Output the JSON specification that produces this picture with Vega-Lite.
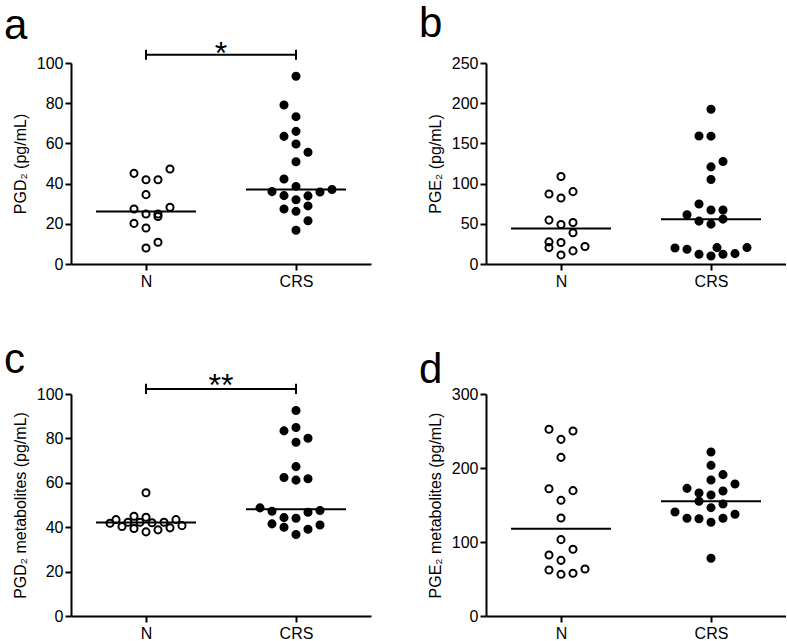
{
  "$schema": "https://vega.github.io/schema/vega-lite/v6.json",
  "padding": {"left": 4, "top": 3, "right": 0, "bottom": 0},
  "spacing": 49,
  "config": {
    "font": "Liberation Sans",
    "view": {"stroke": null},
    "axis": {"domainColor": "black", "domainWidth": 2, "tickColor": "black", "tickWidth": 2, "tickSize": 6, "labelColor": "black", "labelFontSize": 16, "titleColor": "black", "titleFontSize": 16, "titleFontWeight": "normal", "grid": false, "labelPadding": 2, "titlePadding": 8},
    "axisX": {"labelPadding": 3, "labelAngle": 0},
    "title": {"fontSize": 42, "fontWeight": "normal", "anchor": "start", "frame": "group", "color": "black", "dx": -67},
    "concat": {"spacing": 48}
  },
  "datasets": {
    "a": [
      {"g": "N", "v": 45.1, "col": -1}, {"g": "N", "v": 41.9, "col": 0}, {"g": "N", "v": 41.9, "col": 1}, {"g": "N", "v": 47.3, "col": 2},
      {"g": "N", "v": 34.5, "col": 0}, {"g": "N", "v": 27.4, "col": -1}, {"g": "N", "v": 24.9, "col": 0}, {"g": "N", "v": 24.9, "col": 1},
      {"g": "N", "v": 23.6, "col": 1}, {"g": "N", "v": 28.2, "col": 2}, {"g": "N", "v": 20.2, "col": -1}, {"g": "N", "v": 17.9, "col": 0},
      {"g": "N", "v": 10.8, "col": 1}, {"g": "N", "v": 8.0, "col": 0},
      {"g": "CRS", "v": 93.4, "col": 0}, {"g": "CRS", "v": 79.1, "col": -1}, {"g": "CRS", "v": 73.3, "col": 0}, {"g": "CRS", "v": 66.0, "col": 0},
      {"g": "CRS", "v": 63.5, "col": -1}, {"g": "CRS", "v": 59.7, "col": 0}, {"g": "CRS", "v": 55.6, "col": 1}, {"g": "CRS", "v": 50.9, "col": 0},
      {"g": "CRS", "v": 42.3, "col": -1}, {"g": "CRS", "v": 38.6, "col": 0}, {"g": "CRS", "v": 36.0, "col": -2}, {"g": "CRS", "v": 35.8, "col": 2},
      {"g": "CRS", "v": 37.1, "col": 3}, {"g": "CRS", "v": 34.0, "col": -1}, {"g": "CRS", "v": 33.9, "col": 1}, {"g": "CRS", "v": 32.0, "col": 0},
      {"g": "CRS", "v": 27.4, "col": -1}, {"g": "CRS", "v": 26.2, "col": 0}, {"g": "CRS", "v": 28.9, "col": 1}, {"g": "CRS", "v": 21.5, "col": 1},
      {"g": "CRS", "v": 16.8, "col": 0}
    ],
    "b": [
      {"g": "N", "v": 108.8, "col": 0}, {"g": "N", "v": 87.1, "col": -1}, {"g": "N", "v": 90.0, "col": 1}, {"g": "N", "v": 82.1, "col": 0},
      {"g": "N", "v": 54.6, "col": -1}, {"g": "N", "v": 49.2, "col": 0}, {"g": "N", "v": 51.7, "col": 1}, {"g": "N", "v": 38.8, "col": 1},
      {"g": "N", "v": 27.5, "col": -1}, {"g": "N", "v": 26.7, "col": 0}, {"g": "N", "v": 20.4, "col": -1}, {"g": "N", "v": 16.3, "col": 1},
      {"g": "N", "v": 21.7, "col": 2}, {"g": "N", "v": 11.3, "col": 0},
      {"g": "CRS", "v": 192.5, "col": 0}, {"g": "CRS", "v": 159.2, "col": -1}, {"g": "CRS", "v": 159.0, "col": 0}, {"g": "CRS", "v": 127.5, "col": 1},
      {"g": "CRS", "v": 120.8, "col": 0}, {"g": "CRS", "v": 105.0, "col": 0}, {"g": "CRS", "v": 74.6, "col": -1}, {"g": "CRS", "v": 67.1, "col": 0},
      {"g": "CRS", "v": 67.1, "col": 1}, {"g": "CRS", "v": 61.3, "col": -2}, {"g": "CRS", "v": 53.3, "col": -1}, {"g": "CRS", "v": 49.6, "col": 0},
      {"g": "CRS", "v": 55.8, "col": 1}, {"g": "CRS", "v": 20.0, "col": -3}, {"g": "CRS", "v": 18.3, "col": -2}, {"g": "CRS", "v": 12.1, "col": -1},
      {"g": "CRS", "v": 10.0, "col": 0}, {"g": "CRS", "v": 20.4, "col": 0.5}, {"g": "CRS", "v": 12.1, "col": 1}, {"g": "CRS", "v": 12.9, "col": 2},
      {"g": "CRS", "v": 20.4, "col": 3}
    ],
    "c": [
      {"g": "N", "v": 55.5, "col": 0}, {"g": "N", "v": 41.8, "col": -3}, {"g": "N", "v": 43.4, "col": -2.5}, {"g": "N", "v": 40.3, "col": -2},
      {"g": "N", "v": 42.2, "col": -1.5}, {"g": "N", "v": 44.9, "col": -1}, {"g": "N", "v": 39.4, "col": -1}, {"g": "N", "v": 42.2, "col": -0.5},
      {"g": "N", "v": 44.5, "col": 0}, {"g": "N", "v": 37.9, "col": 0}, {"g": "N", "v": 42.0, "col": 0.5}, {"g": "N", "v": 38.8, "col": 1},
      {"g": "N", "v": 42.2, "col": 1.5}, {"g": "N", "v": 39.7, "col": 2}, {"g": "N", "v": 43.4, "col": 2.5}, {"g": "N", "v": 40.7, "col": 3},
      {"g": "CRS", "v": 92.6, "col": 0}, {"g": "CRS", "v": 83.4, "col": -1}, {"g": "CRS", "v": 84.9, "col": 0}, {"g": "CRS", "v": 80.1, "col": 1},
      {"g": "CRS", "v": 78.3, "col": 0}, {"g": "CRS", "v": 67.3, "col": 0}, {"g": "CRS", "v": 62.4, "col": -1}, {"g": "CRS", "v": 61.2, "col": 0},
      {"g": "CRS", "v": 61.8, "col": 1}, {"g": "CRS", "v": 48.7, "col": -3}, {"g": "CRS", "v": 47.2, "col": -2}, {"g": "CRS", "v": 46.7, "col": 1},
      {"g": "CRS", "v": 47.5, "col": 2}, {"g": "CRS", "v": 44.3, "col": -1}, {"g": "CRS", "v": 44.0, "col": 0}, {"g": "CRS", "v": 41.5, "col": -2},
      {"g": "CRS", "v": 40.0, "col": -1}, {"g": "CRS", "v": 39.1, "col": 1}, {"g": "CRS", "v": 41.0, "col": 2}, {"g": "CRS", "v": 36.7, "col": 0}
    ],
    "d": [
      {"g": "N", "v": 252.3, "col": -1}, {"g": "N", "v": 250.0, "col": 1}, {"g": "N", "v": 238.7, "col": 0}, {"g": "N", "v": 214.4, "col": 0},
      {"g": "N", "v": 172.0, "col": -1}, {"g": "N", "v": 169.4, "col": 1}, {"g": "N", "v": 156.3, "col": 0}, {"g": "N", "v": 132.4, "col": 0},
      {"g": "N", "v": 103.2, "col": 0}, {"g": "N", "v": 90.1, "col": 1}, {"g": "N", "v": 82.4, "col": -1}, {"g": "N", "v": 75.2, "col": 0},
      {"g": "N", "v": 62.2, "col": -1}, {"g": "N", "v": 56.3, "col": 0}, {"g": "N", "v": 57.7, "col": 1}, {"g": "N", "v": 63.5, "col": 2},
      {"g": "CRS", "v": 221.6, "col": 0}, {"g": "CRS", "v": 203.6, "col": 0}, {"g": "CRS", "v": 191.0, "col": 1}, {"g": "CRS", "v": 183.8, "col": 0},
      {"g": "CRS", "v": 178.4, "col": 2}, {"g": "CRS", "v": 172.5, "col": -2}, {"g": "CRS", "v": 166.2, "col": -1}, {"g": "CRS", "v": 168.9, "col": 1},
      {"g": "CRS", "v": 163.5, "col": 0}, {"g": "CRS", "v": 155.0, "col": -1}, {"g": "CRS", "v": 151.4, "col": 1}, {"g": "CRS", "v": 146.4, "col": 0},
      {"g": "CRS", "v": 140.5, "col": -3}, {"g": "CRS", "v": 137.4, "col": 2}, {"g": "CRS", "v": 132.0, "col": -2}, {"g": "CRS", "v": 131.5, "col": -1},
      {"g": "CRS", "v": 132.0, "col": 1}, {"g": "CRS", "v": 126.6, "col": 0}, {"g": "CRS", "v": 78.0, "col": 0}
    ]
  },
  "vconcat": [
    {
      "spacing": 48,
      "hconcat": [
        {
          "title": {"text": "a", "offset": -10},
          "width": 300, "height": 201,
          "layer": [
            {
              "data": {"name": "a"},
              "mark": {"type": "tick", "color": "black", "size": 100, "thickness": 2},
              "encoding": {
                "x": {"field": "g", "type": "nominal", "scale": {"type": "point", "domain": ["N", "mid", "CRS"], "padding": 1}, "axis": {"values": ["N", "CRS"], "title": null}},
                "y": {"aggregate": "median", "field": "v", "type": "quantitative", "scale": {"domain": [0, 100], "nice": false}, "axis": {"values": [0, 20, 40, 60, 80, 100], "title": "PGD₂ (pg/mL)"}}
              }
            },
            {
              "data": {"name": "a"},
              "mark": {"type": "point", "shape": "circle", "size": 50, "strokeWidth": 2, "opacity": 1, "stroke": "black"},
              "encoding": {
                "x": {"field": "g", "type": "nominal", "scale": {"type": "point", "domain": ["N", "mid", "CRS"], "padding": 1}, "axis": {"values": ["N", "CRS"], "title": null}},
                "xOffset": {"field": "col", "type": "quantitative", "scale": {"domain": [-3, 3], "range": [-36, 36]}},
                "y": {"field": "v", "type": "quantitative", "scale": {"domain": [0, 100], "nice": false}, "axis": {"values": [0, 20, 40, 60, 80, 100], "title": "PGD₂ (pg/mL)"}},
                "fill": {"condition": {"test": "datum.g === 'CRS'", "value": "black"}, "value": "transparent"}
              }
            },
            {
              "data": {"values": [{"x1": "N", "x2": "CRS", "y": 104.1}]},
              "mark": {"type": "rule", "color": "black", "strokeWidth": 2},
              "encoding": {
                "x": {"field": "x1", "type": "nominal", "scale": {"type": "point", "domain": ["N", "mid", "CRS"], "padding": 1}, "axis": {"values": ["N", "CRS"], "title": null}},
                "x2": {"field": "x2"},
                "y": {"field": "y", "type": "quantitative", "scale": {"domain": [0, 100], "nice": false}, "axis": {"values": [0, 20, 40, 60, 80, 100], "title": "PGD₂ (pg/mL)"}}
              }
            },
            {
              "data": {"values": [{"g": "N", "lo": 101.6, "hi": 106.6}, {"g": "CRS", "lo": 101.6, "hi": 106.6}]},
              "mark": {"type": "rule", "color": "black", "strokeWidth": 2},
              "encoding": {
                "x": {"field": "g", "type": "nominal", "scale": {"type": "point", "domain": ["N", "mid", "CRS"], "padding": 1}, "axis": {"values": ["N", "CRS"], "title": null}},
                "y": {"field": "lo", "type": "quantitative", "scale": {"domain": [0, 100], "nice": false}, "axis": {"values": [0, 20, 40, 60, 80, 100], "title": "PGD₂ (pg/mL)"}},
                "y2": {"field": "hi"}
              }
            },
            {
              "data": {"values": [{"g": "mid", "y": 104.1, "t": "*"}]},
              "mark": {"type": "text", "fontSize": 32, "dy": 9, "baseline": "alphabetic", "color": "black"},
              "encoding": {
                "x": {"field": "g", "type": "nominal", "scale": {"type": "point", "domain": ["N", "mid", "CRS"], "padding": 1}, "axis": {"values": ["N", "CRS"], "title": null}},
                "y": {"field": "y", "type": "quantitative", "scale": {"domain": [0, 100], "nice": false}, "axis": {"values": [0, 20, 40, 60, 80, 100], "title": "PGD₂ (pg/mL)"}},
                "text": {"field": "t"}
              }
            }
          ]
        },
        {
          "title": {"text": "b", "offset": 9},
          "width": 300, "height": 201,
          "layer": [
            {
              "data": {"name": "b"},
              "mark": {"type": "tick", "color": "black", "size": 100, "thickness": 2},
              "encoding": {
                "x": {"field": "g", "type": "nominal", "scale": {"type": "point", "domain": ["N", "mid", "CRS"], "padding": 1}, "axis": {"values": ["N", "CRS"], "title": null}},
                "y": {"aggregate": "median", "field": "v", "type": "quantitative", "scale": {"domain": [0, 250], "nice": false}, "axis": {"values": [0, 50, 100, 150, 200, 250], "title": "PGE₂ (pg/mL)"}}
              }
            },
            {
              "data": {"name": "b"},
              "mark": {"type": "point", "shape": "circle", "size": 50, "strokeWidth": 2, "opacity": 1, "stroke": "black"},
              "encoding": {
                "x": {"field": "g", "type": "nominal", "scale": {"type": "point", "domain": ["N", "mid", "CRS"], "padding": 1}, "axis": {"values": ["N", "CRS"], "title": null}},
                "xOffset": {"field": "col", "type": "quantitative", "scale": {"domain": [-3, 3], "range": [-36, 36]}},
                "y": {"field": "v", "type": "quantitative", "scale": {"domain": [0, 250], "nice": false}, "axis": {"values": [0, 50, 100, 150, 200, 250], "title": "PGE₂ (pg/mL)"}},
                "fill": {"condition": {"test": "datum.g === 'CRS'", "value": "black"}, "value": "transparent"}
              }
            }
          ]
        }
      ]
    },
    {
      "spacing": 48,
      "hconcat": [
        {
          "title": {"text": "c", "offset": -12},
          "width": 300, "height": 222,
          "layer": [
            {
              "data": {"name": "c"},
              "mark": {"type": "tick", "color": "black", "size": 100, "thickness": 2},
              "encoding": {
                "x": {"field": "g", "type": "nominal", "scale": {"type": "point", "domain": ["N", "mid", "CRS"], "padding": 1}, "axis": {"values": ["N", "CRS"], "title": null}},
                "y": {"aggregate": "median", "field": "v", "type": "quantitative", "scale": {"domain": [0, 100], "nice": false}, "axis": {"values": [0, 20, 40, 60, 80, 100], "title": "PGD₂ metabolites (pg/mL)"}}
              }
            },
            {
              "data": {"name": "c"},
              "mark": {"type": "point", "shape": "circle", "size": 50, "strokeWidth": 2, "opacity": 1, "stroke": "black"},
              "encoding": {
                "x": {"field": "g", "type": "nominal", "scale": {"type": "point", "domain": ["N", "mid", "CRS"], "padding": 1}, "axis": {"values": ["N", "CRS"], "title": null}},
                "xOffset": {"field": "col", "type": "quantitative", "scale": {"domain": [-3, 3], "range": [-36, 36]}},
                "y": {"field": "v", "type": "quantitative", "scale": {"domain": [0, 100], "nice": false}, "axis": {"values": [0, 20, 40, 60, 80, 100], "title": "PGD₂ metabolites (pg/mL)"}},
                "fill": {"condition": {"test": "datum.g === 'CRS'", "value": "black"}, "value": "transparent"}
              }
            },
            {
              "data": {"values": [{"x1": "N", "x2": "CRS", "y": 102.3}]},
              "mark": {"type": "rule", "color": "black", "strokeWidth": 2},
              "encoding": {
                "x": {"field": "x1", "type": "nominal", "scale": {"type": "point", "domain": ["N", "mid", "CRS"], "padding": 1}, "axis": {"values": ["N", "CRS"], "title": null}},
                "x2": {"field": "x2"},
                "y": {"field": "y", "type": "quantitative", "scale": {"domain": [0, 100], "nice": false}, "axis": {"values": [0, 20, 40, 60, 80, 100], "title": "PGD₂ metabolites (pg/mL)"}}
              }
            },
            {
              "data": {"values": [{"g": "N", "lo": 100.0, "hi": 104.6}, {"g": "CRS", "lo": 100.0, "hi": 104.6}]},
              "mark": {"type": "rule", "color": "black", "strokeWidth": 2},
              "encoding": {
                "x": {"field": "g", "type": "nominal", "scale": {"type": "point", "domain": ["N", "mid", "CRS"], "padding": 1}, "axis": {"values": ["N", "CRS"], "title": null}},
                "y": {"field": "lo", "type": "quantitative", "scale": {"domain": [0, 100], "nice": false}, "axis": {"values": [0, 20, 40, 60, 80, 100], "title": "PGD₂ metabolites (pg/mL)"}},
                "y2": {"field": "hi"}
              }
            },
            {
              "data": {"values": [{"g": "mid", "y": 102.3, "t": "**"}]},
              "mark": {"type": "text", "fontSize": 32, "dy": 7, "baseline": "alphabetic", "color": "black"},
              "encoding": {
                "x": {"field": "g", "type": "nominal", "scale": {"type": "point", "domain": ["N", "mid", "CRS"], "padding": 1}, "axis": {"values": ["N", "CRS"], "title": null}},
                "y": {"field": "y", "type": "quantitative", "scale": {"domain": [0, 100], "nice": false}, "axis": {"values": [0, 20, 40, 60, 80, 100], "title": "PGD₂ metabolites (pg/mL)"}},
                "text": {"field": "t"}
              }
            }
          ]
        },
        {
          "title": {"text": "d", "offset": -6},
          "width": 300, "height": 222,
          "layer": [
            {
              "data": {"name": "d"},
              "mark": {"type": "tick", "color": "black", "size": 100, "thickness": 2},
              "encoding": {
                "x": {"field": "g", "type": "nominal", "scale": {"type": "point", "domain": ["N", "mid", "CRS"], "padding": 1}, "axis": {"values": ["N", "CRS"], "title": null}},
                "y": {"aggregate": "median", "field": "v", "type": "quantitative", "scale": {"domain": [0, 300], "nice": false}, "axis": {"values": [0, 100, 200, 300], "title": "PGE₂ metabolites (pg/mL)"}}
              }
            },
            {
              "data": {"name": "d"},
              "mark": {"type": "point", "shape": "circle", "size": 50, "strokeWidth": 2, "opacity": 1, "stroke": "black"},
              "encoding": {
                "x": {"field": "g", "type": "nominal", "scale": {"type": "point", "domain": ["N", "mid", "CRS"], "padding": 1}, "axis": {"values": ["N", "CRS"], "title": null}},
                "xOffset": {"field": "col", "type": "quantitative", "scale": {"domain": [-3, 3], "range": [-36, 36]}},
                "y": {"field": "v", "type": "quantitative", "scale": {"domain": [0, 300], "nice": false}, "axis": {"values": [0, 100, 200, 300], "title": "PGE₂ metabolites (pg/mL)"}},
                "fill": {"condition": {"test": "datum.g === 'CRS'", "value": "black"}, "value": "transparent"}
              }
            }
          ]
        }
      ]
    }
  ]
}
